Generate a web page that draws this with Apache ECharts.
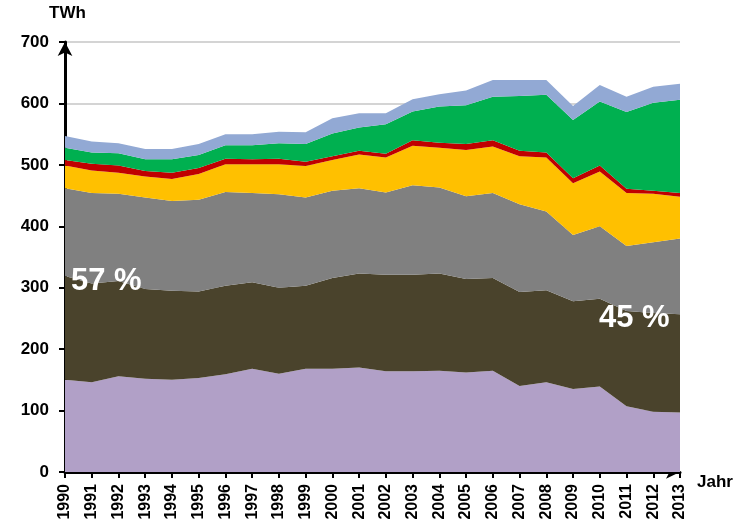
<!DOCTYPE html>
<html>
<head>
<meta charset="utf-8">
<script src="https://cdn.jsdelivr.net/npm/echarts@6/dist/echarts.min.js"></script>
<style>
html,body{margin:0;padding:0;background:#fff;}
#chart{width:737px;height:523px;}
</style>
</head>
<body>
<div id="chart"></div>
<script>
const years = ['1990','1991','1992','1993','1994','1995','1996','1997','1998','1999','2000','2001','2002','2003','2004','2005','2006','2007','2008','2009','2010','2011','2012','2013'];
const yTicks = [0,100,200,300,400,500,600,700];
const nuclear    = [150,146,156,152,150,153,159,168,160,168,168,170,164,164,165,162,165,140,146,135,139,107,98,97];
const lignite    = [169,161,155,146,145,141,144,141,140,135,148,153,157,157,158,152,151,153,150,143,143,155,161,160];
const hardCoal   = [143,147,142,149,146,149,153,145,152,144,142,139,134,146,140,135,138,143,128,108,118,106,115,123];
const gas        = [37,37,34,34,36,42,45,47,49,51,50,55,57,64,65,75,76,78,88,84,89,86,79,68];
const oil        = [9,11,12,9,10,10,9,8,9,7,6,6,6,9,8,10,10,9,8,8,10,7,5,6];
const renewables = [20,18,20,19,22,21,22,23,25,29,37,38,48,47,59,63,71,89,94,95,104,125,143,152];
const other      = [19,18,16,17,17,18,18,18,19,19,25,23,18,20,20,24,27,26,24,23,27,25,26,26];
const labelLeft = '57 %';
const labelRight = '45 %';

const font = 'Liberation Sans, Arial, sans-serif';
const layers = [
  {name:'Kernenergie', data:nuclear, color:'#b1a0c7'},
  {name:'Braunkohle', data:lignite, color:'#4a432c'},
  {name:'Steinkohle', data:hardCoal, color:'#808080'},
  {name:'Erdgas', data:gas, color:'#ffc000'},
  {name:'Mineralöl', data:oil, color:'#c00000'},
  {name:'Erneuerbare', data:renewables, color:'#00b050'},
  {name:'Sonstige', data:other, color:'#92a9d4'}
];

const chart = echarts.init(document.getElementById('chart'));
chart.setOption({
  animation:false,
  backgroundColor:'#fff',
  grid:{left:65,right:57,top:42,bottom:51,containLabel:false},
  xAxis:{
    type:'category', data:years, boundaryGap:false,
    name:'Jahr', nameLocation:'end', nameGap:17,
    nameTextStyle:{color:'#000',fontWeight:'bold',fontSize:17,fontFamily:font,verticalAlign:'top',padding:[2,0,0,0]},
    axisLine:{show:true,lineStyle:{color:'#000',width:3},symbol:['none','arrow'],symbolSize:[10,14]},
    axisTick:{show:true,alignWithLabel:true,length:6,lineStyle:{color:'#000',width:2}},
    axisLabel:{rotate:90,interval:0,color:'#000',fontWeight:'bold',fontSize:16,fontFamily:font,margin:12},
    splitLine:{show:false}
  },
  yAxis:{
    type:'value', min:yTicks[0], max:yTicks[yTicks.length-1], interval:100,
    name:'TWh', nameLocation:'end', nameGap:20,
    nameTextStyle:{color:'#000',fontWeight:'bold',fontSize:17,fontFamily:font,align:'left',padding:[0,0,0,-16]},
    axisLine:{show:true,lineStyle:{color:'#000',width:3},symbol:['none','arrow'],symbolSize:[11,14]},
    axisTick:{show:true,length:6,lineStyle:{color:'#000',width:2}},
    axisLabel:{color:'#000',fontWeight:'bold',fontSize:17,fontFamily:font,margin:16},
    splitLine:{show:true,lineStyle:{color:'#d4d4d4',width:2}}
  },
  series: layers.map(l => ({
    name:l.name, type:'line', stack:'total', data:l.data,
    showSymbol:false, symbol:'none',
    lineStyle:{width:0, color:l.color},
    itemStyle:{color:l.color},
    areaStyle:{color:l.color, opacity:1},
    z:1
  })),
  graphic:[
    {type:'text', left:71, top:266, z:100, style:{text:labelLeft, fill:'#fff', font:'bold 31px '+font}},
    {type:'text', left:599, top:303, z:100, style:{text:labelRight, fill:'#fff', font:'bold 31px '+font}}
  ]
});
</script>
</body>
</html>
